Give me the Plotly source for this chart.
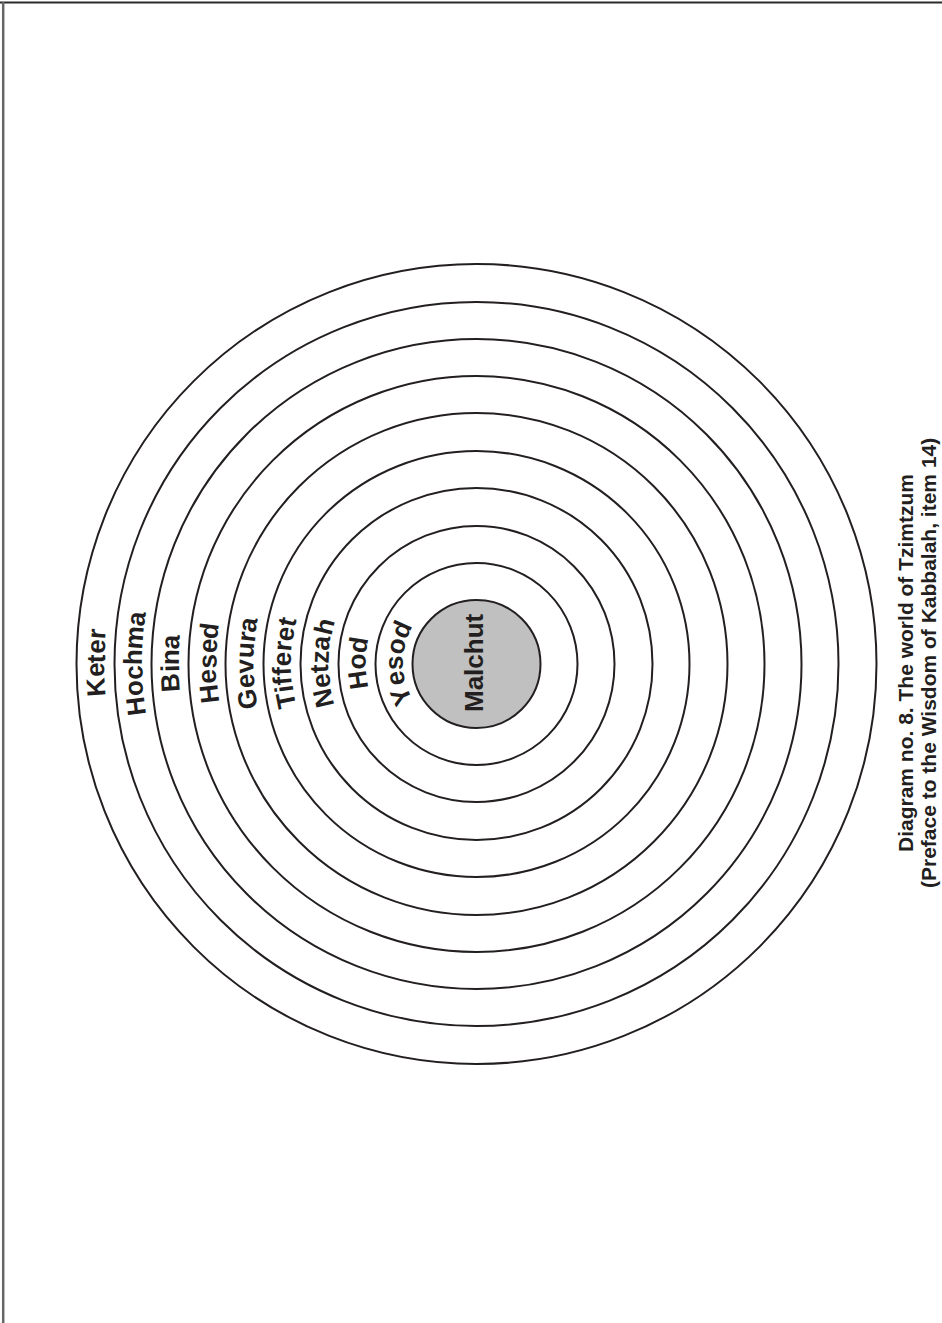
import math
import plotly.graph_objects as go

# ---------------- data ----------------
# ring radii (px-units), innermost (Malchut disc) to outermost (Keter)
ring_radii = [64, 101, 138, 176, 213, 251, 288, 325, 362, 400]
# labels written in the bands, from the outermost band inwards
band_labels = ["Keter", "Hochma", "Bina", "Hesed", "Gevura", "Tifferet", "Netzah", "Hod", "Yesod"]
center_label = "Malchut"
caption_lines = ["Diagram no. 8. The world of Tzimtzum",
                 "(Preface to the Wisdom of Kabbalah, item 14)"]

# ---------------- styling / layout ----------------
W, H = 942, 1323
CX, CY = 476.5, 664.0          # circle centre on the page (px)
INK = "#231f20"
FILL = "#c0c0c0"
FONT = "Liberation Sans, Arial, Helvetica, sans-serif"
LABEL_SIZE = 26
CAP_SIZE = 21

# Arial/Liberation Sans Bold advance widths (per 1000 em)
ADV = {
    'A': 722, 'B': 722, 'C': 722, 'D': 722, 'E': 667, 'F': 611, 'G': 778, 'H': 722, 'I': 278,
    'J': 556, 'K': 722, 'L': 611, 'M': 833, 'N': 722, 'O': 778, 'P': 667, 'Q': 778, 'R': 722,
    'S': 667, 'T': 611, 'U': 722, 'V': 667, 'W': 944, 'X': 667, 'Y': 667, 'Z': 611,
    'a': 556, 'b': 611, 'c': 556, 'd': 611, 'e': 556, 'f': 333, 'g': 611, 'h': 611, 'i': 278,
    'j': 278, 'k': 556, 'l': 278, 'm': 889, 'n': 611, 'o': 611, 'p': 611, 'q': 611, 'r': 389,
    's': 556, 't': 333, 'u': 611, 'v': 556, 'w': 778, 'x': 556, 'y': 556, 'z': 500, ' ': 278,
}

fig = go.Figure()

shapes = []
for i, r in enumerate(ring_radii):
    shapes.append(dict(
        type="circle", xref="x", yref="y", x0=-r, x1=r, y0=-r, y1=r,
        line=dict(color=INK, width=2),
        fillcolor=FILL if i == 0 else "rgba(0,0,0,0)",
        layer="below" if i == 0 else "above",
    ))

# page frame lines (top and left)
shapes.append(dict(type="line", xref="paper", yref="paper", x0=0, x1=1,
                   y0=1 - 2.5 / H, y1=1 - 2.5 / H, line=dict(color="#2b2b2b", width=2)))
shapes.append(dict(type="line", xref="paper", yref="paper", x0=3.2 / W, x1=3.2 / W,
                   y0=0, y1=1 - 2 / H, line=dict(color="#666666", width=2.5)))

annotations = []

# band labels set along the arcs (text on a circular baseline, left side, reading upward)
outer_to_inner = ring_radii[::-1]
for k, label in enumerate(band_labels):
    r_out, r_in = outer_to_inner[k], outer_to_inner[k + 1]
    rho_c = (r_out + r_in) / 2.0                 # glyph box centre radius
    rho_b = rho_c - 0.35 * LABEL_SIZE            # baseline radius
    widths = [ADV[c] / 1000.0 * LABEL_SIZE for c in label]
    total = sum(widths)
    acc = 0.0
    for c, w in zip(label, widths):
        s = acc + w / 2.0 - total / 2.0          # arc distance from centre line (upward +)
        acc += w
        th = math.pi - s / rho_b
        annotations.append(dict(
            x=rho_c * math.cos(th), y=rho_c * math.sin(th) + 1.0,
            xref="x", yref="y", text=c, showarrow=False,
            xanchor="center", yanchor="middle",
            textangle=90.0 - math.degrees(th),
            font=dict(family=FONT, size=LABEL_SIZE, color=INK, weight="bold"),
        ))

annotations.append(dict(
    x=-2.5, y=1.0, xref="x", yref="y", text=center_label, showarrow=False,
    xanchor="center", yanchor="middle", textangle=-90,
    font=dict(family=FONT, size=LABEL_SIZE, color=INK, weight="bold"),
))

# caption (rotated)
cap_x = [905.0, 928.0]
for line, px in zip(caption_lines, cap_x):
    annotations.append(dict(
        x=px - CX, y=1.0, xref="x", yref="y", text=line, showarrow=False,
        xanchor="center", yanchor="middle", textangle=-90, borderpad=0,
        font=dict(family=FONT, size=CAP_SIZE, color=INK, weight="bold"),
    ))

fig.update_layout(
    width=W, height=H,
    margin=dict(l=0, r=0, t=0, b=0),
    paper_bgcolor="white", plot_bgcolor="white",
    showlegend=False,
    shapes=shapes, annotations=annotations,
    xaxis=dict(range=[-CX, W - CX], visible=False, showgrid=False, zeroline=False, fixedrange=True),
    yaxis=dict(range=[-(H - CY), CY], visible=False, showgrid=False, zeroline=False, fixedrange=True),
)

fig.write_html(
    "out.html",
    config={"displayModeBar": False},
    post_script="document.body.style.margin='0';document.body.style.overflow='hidden';",
)
